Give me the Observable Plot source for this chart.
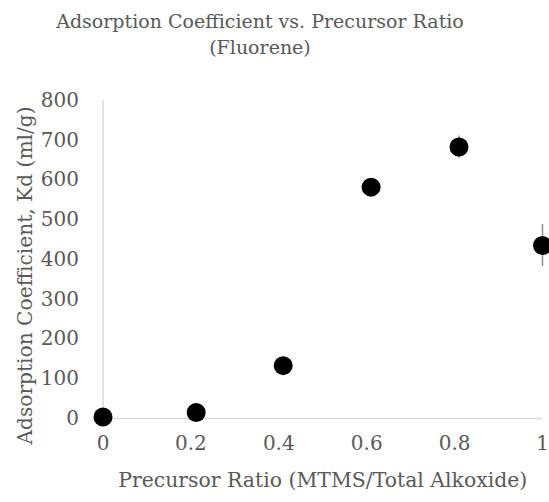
<!DOCTYPE html>
<html>
<head>
<meta charset="utf-8">
<script src="https://cdn.jsdelivr.net/npm/d3@7"></script>
<script src="https://cdn.jsdelivr.net/npm/@observablehq/plot@0.6"></script>
<style>
  html, body { margin: 0; padding: 0; background: #fff; overflow: hidden; }
  #title { width: 520px; height: 70px; box-sizing: border-box; padding-top: 8px; text-align: center;
    font-family: "DejaVu Serif", serif; font-size: 19px; line-height: 26px; color: #595959; }
</style>
</head>
<body>
<div id="title">Adsorption Coefficient vs. Precursor Ratio<br>(Fluorene)</div>
<div id="chart"></div>
<script>
const ratio = [0, 0.212, 0.41, 0.61, 0.81, 1.0];
const kd = [4, 15, 133, 582, 683, 435];
const kdErr = [4, 5, 6, 8, 28, 53];
const xTicks = [0, 0.2, 0.4, 0.6, 0.8, 1];
const yTicks = [0, 100, 200, 300, 400, 500, 600, 700, 800];

const data = ratio.map((r, i) => ({ x: r, y: kd[i], lo: kd[i] - kdErr[i], hi: kd[i] + kdErr[i] }));

const chart = Plot.plot({
  width: 549,
  height: 432,
  marginTop: 30,
  marginBottom: 84,
  marginLeft: 102.5,
  marginRight: 7,
  style: { fontFamily: "DejaVu Serif, serif", fontSize: "20px", color: "#595959", overflow: "visible" },
  x: { domain: [0, 1], ticks: xTicks, tickFormat: d => String(d), label: null },
  y: { domain: [0, 800], ticks: yTicks, tickFormat: d => String(d), label: null },
  marks: [
    Plot.axisX({ ticks: xTicks, tickSize: 0, tickPadding: 17, tickFormat: d => String(d), label: null, fill: "#595959" }),
    Plot.axisY({ ticks: yTicks, tickSize: 0, tickPadding: 24, tickFormat: d => String(d), label: null, fill: "#595959" }),
    Plot.ruleX([0], { y1: 0, y2: 800, stroke: "#d9d9d9", strokeWidth: 1.5 }),
    Plot.ruleY([0], { x1: 0, x2: 1, stroke: "#d9d9d9", strokeWidth: 1.5 }),
    Plot.ruleX(data, { x: "x", y1: "lo", y2: "hi", stroke: "#8c8c8c", strokeWidth: 1.5 }),
    Plot.dot(data, { x: "x", y: "y", r: 9.5, fill: "#000", stroke: "none" }),
    Plot.text(["Precursor Ratio (MTMS/Total Alkoxide)"], { frameAnchor: "bottom", dy: 68, text: d => d, fontSize: 20.4, fill: "#595959" }),
    Plot.text(["Adsorption Coefficient, Kd (ml/g)"], { frameAnchor: "left", textAnchor: "middle", dx: -77, dy: 16, rotate: -90, text: d => d, fontSize: 20.2, fill: "#595959" })
  ]
});
document.getElementById("chart").appendChild(chart);
</script>
</body>
</html>
